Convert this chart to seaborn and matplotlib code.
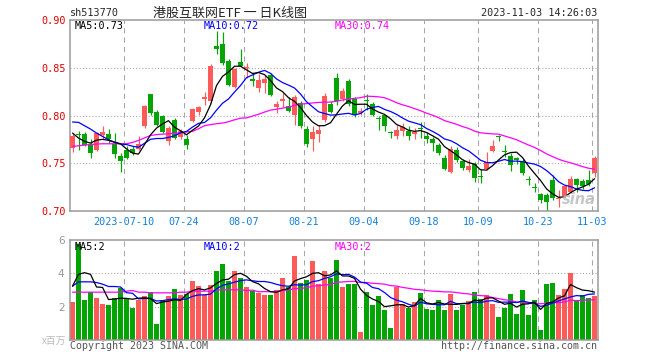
import numpy as np
import pandas as pd
import seaborn as sns
import matplotlib
matplotlib.use("Agg")
import matplotlib.pyplot as plt

# sh513770 daily K, 2023-06-27 .. 2023-11-03 (88 trading days)
opens = [0.766, 0.781, 0.781, 0.770, 0.764, 0.780, 0.781, 0.770, 0.758, 0.764,
         0.765, 0.765, 0.789, 0.822, 0.804, 0.799, 0.773, 0.795, 0.777, 0.775,
         0.794, 0.804, 0.817, 0.815, 0.873, 0.875, 0.857, 0.830, 0.856, 0.850,
         0.838, 0.829, 0.834, 0.842, 0.809, 0.815, 0.810, 0.801, 0.813, 0.786,
         0.775, 0.781, 0.795, 0.812, 0.839, 0.817, 0.836, 0.817, 0.803, 0.816,
         0.812, 0.797, 0.800, 0.783, 0.779, 0.784, 0.784, 0.781, 0.787, 0.779,
         0.775, 0.769, 0.755, 0.741, 0.764, 0.752, 0.743, 0.749, 0.737, 0.744,
         0.763, 0.779, 0.763, 0.758, 0.755, 0.751, 0.734, 0.725, 0.718, 0.717,
         0.732, 0.713, 0.716, 0.720, 0.733, 0.731, 0.732, 0.740]
highs = [0.781, 0.784, 0.783, 0.775, 0.783, 0.789, 0.786, 0.782, 0.761, 0.768,
         0.768, 0.779, 0.811, 0.823, 0.806, 0.801, 0.789, 0.797, 0.786, 0.780,
         0.808, 0.810, 0.825, 0.854, 0.889, 0.887, 0.859, 0.850, 0.870, 0.855,
         0.845, 0.843, 0.842, 0.844, 0.815, 0.824, 0.819, 0.821, 0.815, 0.789,
         0.789, 0.790, 0.824, 0.815, 0.845, 0.829, 0.838, 0.819, 0.808, 0.822,
         0.814, 0.800, 0.801, 0.784, 0.790, 0.792, 0.789, 0.787, 0.793, 0.783,
         0.778, 0.771, 0.759, 0.768, 0.767, 0.754, 0.754, 0.751, 0.744, 0.762,
         0.774, 0.780, 0.769, 0.761, 0.757, 0.754, 0.737, 0.729, 0.719, 0.719,
         0.738, 0.722, 0.727, 0.737, 0.735, 0.733, 0.743, 0.758]
lows = [0.762, 0.764, 0.768, 0.756, 0.763, 0.775, 0.771, 0.755, 0.741, 0.754,
        0.759, 0.764, 0.787, 0.801, 0.789, 0.782, 0.769, 0.775, 0.775, 0.765,
        0.793, 0.801, 0.811, 0.813, 0.864, 0.853, 0.831, 0.829, 0.852, 0.839,
        0.831, 0.825, 0.824, 0.820, 0.803, 0.809, 0.804, 0.790, 0.787, 0.767,
        0.763, 0.772, 0.793, 0.803, 0.811, 0.815, 0.810, 0.798, 0.801, 0.806,
        0.799, 0.785, 0.784, 0.776, 0.775, 0.779, 0.774, 0.775, 0.776, 0.771,
        0.763, 0.759, 0.743, 0.740, 0.751, 0.743, 0.741, 0.730, 0.729, 0.743,
        0.762, 0.773, 0.757, 0.742, 0.749, 0.738, 0.727, 0.720, 0.708, 0.700,
        0.712, 0.704, 0.715, 0.719, 0.720, 0.723, 0.726, 0.736]
closes = [0.779, 0.780, 0.769, 0.761, 0.782, 0.783, 0.775, 0.760, 0.752, 0.755,
          0.761, 0.770, 0.810, 0.803, 0.790, 0.783, 0.787, 0.776, 0.784, 0.769,
          0.807, 0.809, 0.819, 0.852, 0.870, 0.855, 0.832, 0.849, 0.852, 0.851,
          0.836, 0.837, 0.838, 0.821, 0.812, 0.817, 0.805, 0.819, 0.789, 0.770,
          0.783, 0.785, 0.820, 0.804, 0.815, 0.826, 0.812, 0.801, 0.805, 0.815,
          0.801, 0.796, 0.789, 0.782, 0.785, 0.788, 0.779, 0.783, 0.786, 0.775,
          0.771, 0.761, 0.744, 0.765, 0.753, 0.745, 0.747, 0.735, 0.736, 0.751,
          0.768, 0.777, 0.762, 0.748, 0.753, 0.740, 0.732, 0.724, 0.711, 0.709,
          0.714, 0.714, 0.726, 0.733, 0.727, 0.726, 0.728, 0.755]
# volume in millions
volumes = [2.30, 5.76, 2.42, 2.87, 2.55, 2.18, 2.12, 2.55, 3.15, 2.48,
           1.94, 2.42, 2.67, 2.91, 0.97, 2.42, 2.67, 3.09, 2.73, 2.79,
           3.52, 3.27, 2.73, 3.33, 4.12, 4.55, 3.52, 4.12, 3.70, 3.21,
           2.97, 2.85, 2.73, 2.73, 3.03, 3.70, 3.21, 5.03, 3.45, 3.58,
           4.73, 3.39, 4.12, 3.70, 4.79, 3.21, 3.39, 3.39, 0.48, 2.91,
           2.12, 2.67, 1.82, 0.73, 3.21, 2.18, 1.94, 2.30, 2.85, 1.88,
           1.82, 2.42, 1.82, 2.79, 1.82, 2.12, 2.36, 2.91, 2.48, 2.73,
           2.18, 1.39, 1.94, 2.79, 1.58, 3.03, 1.52, 2.42, 0.61, 3.39,
           3.45, 2.73, 3.09, 4.00, 2.42, 2.73, 2.55, 2.67]

ma5_head = [0.7816, 0.7764, 0.7729, 0.7711]
ma10_head = [0.7932, 0.7928, 0.7893, 0.7858, 0.7816, 0.7781, 0.7746, 0.7718, 0.7701]
ma30_head = [0.7676, 0.7683, 0.7690, 0.7697, 0.7701, 0.7704, 0.7704, 0.7704, 0.7704, 0.7704,
             0.7718, 0.7739, 0.7765, 0.7790, 0.7800, 0.7805, 0.7809, 0.7813, 0.7820, 0.7828,
             0.7834, 0.7862, 0.7893, 0.7905, 0.7914, 0.7921, 0.7935, 0.7955, 0.7972]
vma5_head = [3.23, 3.94, 4.04, 3.94]
vma10_head = [3.23, 3.49, 3.49, 3.49, 3.45, 3.35, 3.21, 3.21, 3.18]
vma30_head = [2.87, 2.87, 2.87, 2.87, 2.87, 2.87, 2.87, 2.87, 2.87, 2.93,
              2.97, 2.87, 2.87, 2.83, 2.83, 2.83, 2.83, 2.83, 2.87, 2.87,
              2.93, 2.93, 2.93, 2.93, 2.99, 3.01, 3.01, 3.01, 3.01]

tick_days = [9, 19, 29, 39, 49, 59, 68, 78, 87]
tick_labels = ['2023-07-10', '07-24', '08-07', '08-21', '09-04', '09-18', '10-09', '10-23', '11-03']
price_ticks = [0.70, 0.75, 0.80, 0.85, 0.90]
vol_ticks = [2, 4, 6]

RED = '#ff5a5a'
GREEN = '#04a404'
GRID = '#a6a6a6'
FRAME = '#9a9a9a'
MONO = 'DejaVu Sans Mono'
CJK = ['Noto Sans CJK SC', 'DejaVu Sans']
W, H = 660, 360


def moving_avg(values, n, head):
    ma = pd.Series(values, dtype=float).rolling(n).mean()
    ma.iloc[:len(head)] = head
    return ma


def px(x, y):
    return x / W, 1 - y / H


df = pd.DataFrame({'day': np.arange(len(closes)), 'open': opens, 'high': highs,
                   'low': lows, 'close': closes, 'volume': volumes})
df['trend'] = np.where(df['close'] >= df['open'], 'up', 'down')
df['color'] = np.where(df['trend'] == 'up', RED, GREEN)

sns.set_style('white')
plt.rcParams['font.family'] = ['DejaVu Sans']

fig = plt.figure(figsize=(W / 100, H / 100), dpi=100)
ax1 = fig.add_axes([70 / W, 1 - 211 / H, 528 / W, 191 / H])
ax2 = fig.add_axes([70 / W, 1 - 340 / H, 528 / W, 100 / H])

# grids
for ax in (ax1, ax2):
    for d in tick_days:
        ax.axvline(d - 0.4, color=GRID, lw=0.75, ls=(0, (5, 4)), zorder=0)
for p in price_ticks[1:-1]:
    ax1.axhline(p, color=GRID, lw=0.75, ls=(0, (1, 2)), zorder=0)
for v in vol_ticks[:-1]:
    ax2.axhline(v, color=GRID, lw=0.75, ls=(0, (1, 2)), zorder=0)

# candles
ax1.vlines(df['day'], df['low'], df['high'], colors=df['color'], lw=0.85, zorder=2)
body = (df['close'] - df['open']).abs().clip(lower=0.0009)
ax1.bar(df['day'], body, bottom=df[['open', 'close']].min(axis=1), width=0.83,
        color=df['color'], lw=0, zorder=3)

sns.lineplot(x=df['day'], y=moving_avg(closes, 30, ma30_head), color='#ff00ff', lw=0.9, ax=ax1, zorder=4)
sns.lineplot(x=df['day'], y=moving_avg(closes, 10, ma10_head), color='#0000ff', lw=0.9, ax=ax1, zorder=4)
sns.lineplot(x=df['day'], y=moving_avg(closes, 5, ma5_head), color='black', lw=0.9, ax=ax1, zorder=4)

# volume
sns.barplot(data=df, x='day', y='volume', hue='trend', palette={'up': RED, 'down': GREEN},
            native_scale=True, dodge=False, width=0.83, saturation=1, errorbar=None,
            legend=False, linewidth=0, ax=ax2, zorder=2)
sns.lineplot(x=df['day'], y=moving_avg(volumes, 30, vma30_head), color='#ff00ff', lw=0.9, ax=ax2, zorder=4)
sns.lineplot(x=df['day'], y=moving_avg(volumes, 10, vma10_head), color='#0000ff', lw=0.9, ax=ax2, zorder=4)
sns.lineplot(x=df['day'], y=moving_avg(volumes, 5, vma5_head), color='black', lw=0.9, ax=ax2, zorder=4)

for ax in (ax1, ax2):
    ax.set_xlim(-0.42, len(closes) - 0.42)
    ax.set_xlabel('')
    ax.set_ylabel('')
    for s in ax.spines.values():
        s.set_color(FRAME)
        s.set_linewidth(1.1)
        s.set_visible(True)
    ax.tick_params(length=0)

ax1.set_ylim(0.70, 0.90)
ax1.set_yticks(price_ticks)
ax1.set_yticklabels([f'{p:.2f}' for p in price_ticks], color='#e00000', fontfamily=MONO, fontsize=7.3)
ax1.set_xticks([d - 0.4 for d in tick_days])
ax1.set_xticklabels(tick_labels, color='#1480d8', fontfamily=MONO, fontsize=7.3)
ax1.tick_params(axis='y', pad=3)
ax1.tick_params(axis='x', pad=4)

ax2.set_ylim(0, 6)
ax2.set_yticks(vol_ticks)
ax2.set_yticklabels([str(v) for v in vol_ticks], color='#999999', fontsize=7.5)
ax2.set_xticks([])
ax2.tick_params(axis='y', pad=4)

# header and labels
fig.text(*px(70, 13), 'sh513770', fontfamily=MONO, fontsize=7.3, va='center', ha='left')
fig.text(*px(230, 13), '港股互联网ETF 一 日K线图', family=CJK, fontsize=9.4, va='center', ha='center')
fig.text(*px(597, 13), '2023-11-03 14:26:03', fontfamily=MONO, fontsize=7.3, va='center', ha='right')

fig.text(*px(75, 26), 'MA5:0.73', fontfamily=MONO, fontsize=7.3, va='center', color='black')
fig.text(*px(204, 26), 'MA10:0.72', fontfamily=MONO, fontsize=7.3, va='center', color='#0000ff')
fig.text(*px(335, 26), 'MA30:0.74', fontfamily=MONO, fontsize=7.3, va='center', color='#ff00ff')
fig.text(*px(75, 247), 'MA5:2', fontfamily=MONO, fontsize=7.3, va='center', color='black')
fig.text(*px(204, 247), 'MA10:2', fontfamily=MONO, fontsize=7.3, va='center', color='#0000ff')
fig.text(*px(335, 247), 'MA30:2', fontfamily=MONO, fontsize=7.3, va='center', color='#ff00ff')

fig.text(*px(66, 341), 'x百万', family=CJK, fontsize=7, va='center', ha='right', color='#bbbbbb')
fig.text(*px(70, 346), 'Copyright 2023 SINA.COM', fontfamily=MONO, fontsize=7.2, va='center', color='#555555')
fig.text(*px(597, 346), 'http://finance.sina.com.cn', fontfamily=MONO, fontsize=7.2, va='center',
         ha='right', color='#555555')
fig.text(*px(596, 199), 'sina', fontsize=10.5, fontweight='bold', fontstyle='italic', va='center',
         ha='right', color='#bdbdbd', alpha=0.85)

fig.savefig('out.png', dpi=100)
plt.close('all')
